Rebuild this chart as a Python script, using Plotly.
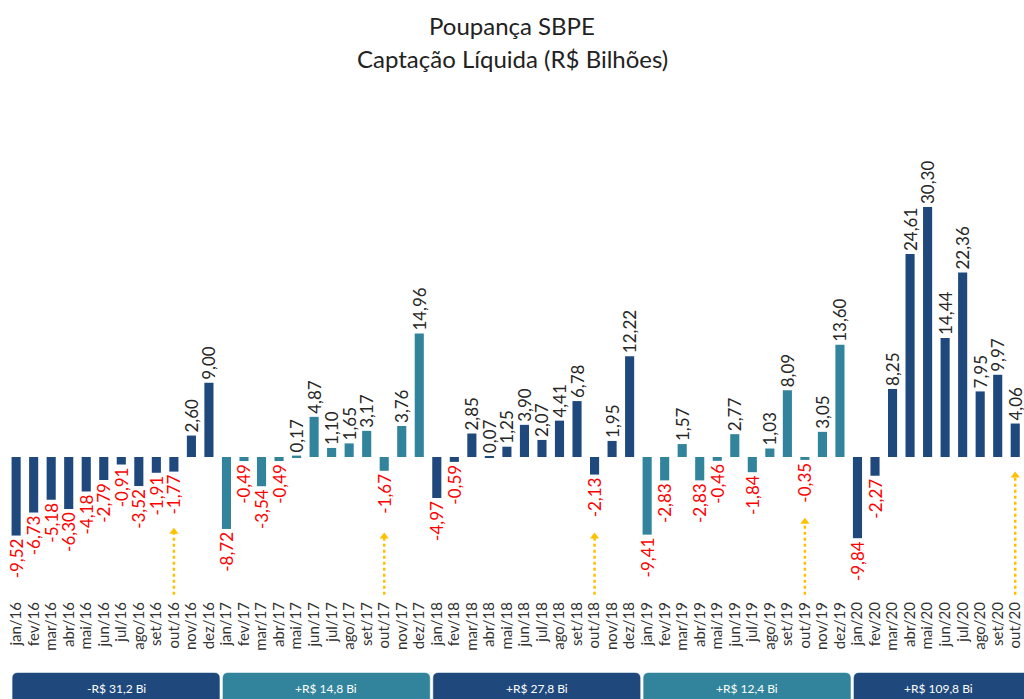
import plotly.graph_objects as go

# ---------------- data ----------------
months_pt = ["jan", "fev", "mar", "abr", "mai", "jun", "jul", "ago", "set", "out", "nov", "dez"]
years = ["16", "17", "18", "19", "20"]

values_2016 = [-9.52, -6.73, -5.18, -6.30, -4.18, -2.79, -0.91, -3.52, -1.91, -1.77, 2.60, 9.00]
values_2017 = [-8.72, -0.49, -3.54, -0.49, 0.17, 4.87, 1.10, 1.65, 3.17, -1.67, 3.76, 14.96]
values_2018 = [-4.97, -0.59, 2.85, 0.07, 1.25, 3.90, 2.07, 4.41, 6.78, -2.13, 1.95, 12.22]
values_2019 = [-9.41, -2.83, 1.57, -2.83, -0.46, 2.77, -1.84, 1.03, 8.09, -0.35, 3.05, 13.60]
values_2020 = [-9.84, -2.27, 8.25, 24.61, 30.30, 14.44, 22.36, 7.95, 9.97, 4.06]

year_totals = ["-R$ 31,2 Bi", "+R$ 14,8 Bi", "+R$ 27,8 Bi", "+R$ 12,4 Bi", "+R$ 109,8 Bi"]

title_line1 = "Poupança SBPE"
title_line2 = "Captação Líquida (R$ Bilhões)"

# ---------------- build ----------------
yearly = [values_2016, values_2017, values_2018, values_2019, values_2020]
values, labels, year_idx = [], [], []
for yi, (yr, vals) in enumerate(zip(years, yearly)):
    for mi, v in enumerate(vals):
        values.append(v)
        labels.append(f"{months_pt[mi]}/{yr}")
        year_idx.append(yi)

n = len(values)
xs = list(range(n))

DARK = "#1F497D"
TEAL = "#31849B"
year_colors = [DARK, TEAL, DARK, TEAL, DARK]
bar_colors = [year_colors[y] for y in year_idx]
text = [f"{v:.2f}".replace(".", ",") for v in values]
text_colors = ["#FF0000" if v < 0 else "#262626" for v in values]

FONT = "Lato, 'Open Sans', sans-serif"

fig = go.Figure()
fig.add_trace(go.Bar(
    x=xs, y=values, width=0.52,
    marker=dict(color=bar_colors, line=dict(width=0)),
    text=text, textposition="outside", textangle=-90,
    textfont=dict(color=text_colors, size=17, family=FONT),
    constraintext="none", cliponaxis=False, hoverinfo="skip",
))

# yellow dotted arrows under each "out" month
arrow_idx = [i for i, l in enumerate(labels) if l.startswith("out/")]
arrow_tips = [-8.6, -9.2, -9.2, -7.4, -1.8]
arrow_base = -16.7
for i, tip in zip(arrow_idx, arrow_tips):
    fig.add_shape(type="line", xref="x", yref="y", x0=i, x1=i, y0=arrow_base, y1=tip - 0.6,
                  line=dict(color="#FFC000", width=2.5, dash="dot"))
fig.add_trace(go.Scatter(
    x=arrow_idx, y=[t - 0.45 for t in arrow_tips], mode="markers",
    marker=dict(symbol="triangle-up", size=8, color="#FFC000", line=dict(width=0)),
    hoverinfo="skip", showlegend=False, cliponaxis=False,
))

# plot geometry
PLOT_TOP, PLOT_BOTTOM, H, W = 80, 598, 699, 1024
Y_MIN, Y_MAX = -17.09, 45.70
X_MIN, X_MAX = -0.92, 57.50


def ypaper(py):
    return (PLOT_BOTTOM - py) / (PLOT_BOTTOM - PLOT_TOP)


# bottom year boxes with rounded top corners
box_top, box_bot = ypaper(673), ypaper(705)
rx = 5 / 17.55
ry = 5 / (PLOT_BOTTOM - PLOT_TOP)
for k, (label, col) in enumerate(zip(year_totals, year_colors)):
    x0 = 12 * k - 0.2
    x1 = min(12 * k + 11.6, X_MAX + 0.5)
    path = (f"M {x0},{box_bot} L {x0},{box_top - ry} Q {x0},{box_top} {x0 + rx},{box_top} "
            f"L {x1 - rx},{box_top} Q {x1},{box_top} {x1},{box_top - ry} L {x1},{box_bot} Z")
    fig.add_shape(type="path", path=path, xref="x", yref="paper",
                  fillcolor=col, line=dict(color=col, width=0.5))
    xc = (x0 + min(12 * k + 11.6, X_MAX)) / 2
    fig.add_annotation(x=xc, y=ypaper(688), xref="x", yref="paper", text=label,
                       showarrow=False, font=dict(color="white", size=12,
                                                   family="'Liberation Sans Narrow', " + FONT),
                       xanchor="center", yanchor="middle")

# title
fig.add_annotation(x=0.5, y=ypaper(25), xref="paper", yref="paper", text=title_line1,
                   showarrow=False, font=dict(size=24, color="#222222", family=FONT),
                   xanchor="center", yanchor="middle")
fig.add_annotation(x=0.5, y=ypaper(58), xref="paper", yref="paper", text=title_line2,
                   showarrow=False, font=dict(size=24, color="#222222", family=FONT),
                   xanchor="center", yanchor="middle")

fig.update_layout(
    width=W, height=H,
    margin=dict(l=0, r=0, t=PLOT_TOP, b=H - PLOT_BOTTOM, pad=0),
    paper_bgcolor="white", plot_bgcolor="white",
    showlegend=False, bargap=0.4,
    font=dict(family=FONT),
    xaxis=dict(range=[X_MIN, X_MAX], tickmode="array", tickvals=xs, ticktext=labels,
               tickangle=-90, tickfont=dict(size=15, color="#333333", family=FONT),
               ticklabeloverflow="allow",
               showgrid=False, zeroline=False, showline=False, ticks="", fixedrange=True),
    yaxis=dict(range=[Y_MIN, Y_MAX], visible=False, showgrid=False, zeroline=False,
               fixedrange=True),
)

fig.write_html("out.html", config={"displayModeBar": False},
               post_script="document.body.style.margin='0';document.body.style.overflow='hidden';")
